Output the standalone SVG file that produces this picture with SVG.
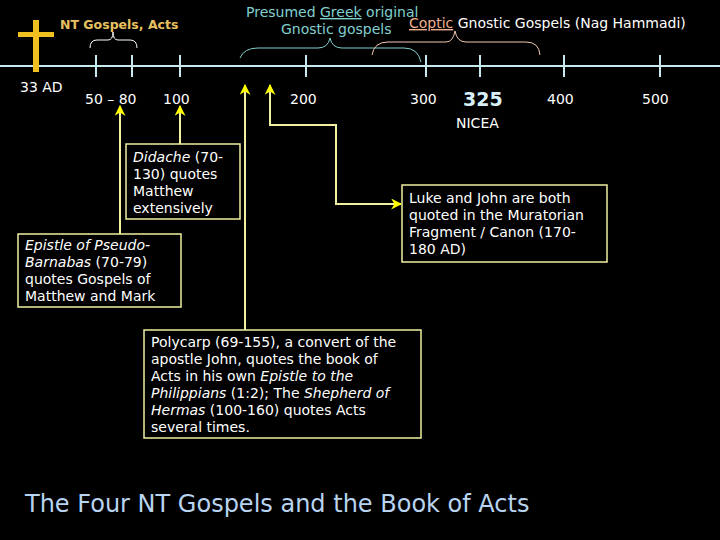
<svg xmlns="http://www.w3.org/2000/svg" width="720" height="540" viewBox="0 0 720 540">
<defs>
<style>
text{font-family:"DejaVu Sans","Verdana",sans-serif;}
.w{fill:#ffffff;font-size:14px;}
.box rect{fill:#000;stroke:#f0f0a0;stroke-width:1.5;}
.box text{fill:#ffffff;font-size:14px;}
.i{font-style:italic;}
.tick{stroke:#c8e8f0;stroke-width:2;}
.con{fill:none;stroke:#f0f0a0;stroke-width:2;}
.teal{fill:#80d0d0;font-size:14px;}
</style>
<marker id="ah" viewBox="0 0 10 10" refX="9" refY="5" markerWidth="5.5" markerHeight="5.5" orient="auto" markerUnits="strokeWidth">
<path d="M0,0 L10,5 L0,10 L3,5 Z" fill="#ffff00"/>
</marker>
</defs>
<rect width="720" height="540" fill="#000"/>

<g id="timeline">
<line x1="0" y1="66" x2="720" y2="66" stroke="#c8e8f0" stroke-width="2"/>
<line class="tick" x1="96" y1="55" x2="96" y2="77"/>
<line class="tick" x1="132" y1="55" x2="132" y2="77"/>
<line class="tick" x1="180" y1="55" x2="180" y2="77"/>
<line class="tick" x1="306" y1="55" x2="306" y2="77"/>
<line class="tick" x1="426" y1="55" x2="426" y2="77"/>
<line class="tick" x1="480" y1="55" x2="480" y2="77"/>
<line class="tick" x1="564" y1="55" x2="564" y2="77"/>
<line class="tick" x1="660" y1="55" x2="660" y2="77"/>
<text class="w" x="20" y="92">33 AD</text>
<text class="w" x="85" y="104">50 – 80</text>
<text class="w" x="163" y="104">100</text>
<text class="w" x="290" y="104">200</text>
<text class="w" x="410" y="104">300</text>
<text x="463" y="106" fill="#d8f0f8" font-size="19" font-weight="bold">325</text>
<text class="w" x="456" y="128">NICEA</text>
<text class="w" x="547" y="104">400</text>
<text class="w" x="642" y="104">500</text>
</g>

<g id="cross">
<rect x="33" y="20" width="6" height="52" fill="#f0c020"/>
<rect x="18" y="32" width="36" height="5" fill="#f0c020"/>
<text x="60" y="29" fill="#e8c060" font-size="12.5" font-weight="bold">NT Gospels, Acts</text>
<path d="M90,48 Q90,40 97,40 L108,40 Q113,40 113,32 Q113,40 118,40 L130,40 Q137,40 137,48" fill="none" stroke="#ffffff" stroke-width="1"/>
</g>

<g id="gnostic">
<text class="teal" x="246" y="17">Presumed <tspan text-decoration="underline">Greek</tspan> original</text>
<text class="teal" x="281" y="34">Gnostic gospels</text>
<path d="M240,58 Q244,48 258,48 L318,48 Q328,48 330,38 Q332,48 342,48 L404,48 Q418,48 421,62" fill="none" stroke="#80d0d0" stroke-width="1"/>
<text x="409" y="28" font-size="14" fill="#ffffff"><tspan fill="#f0b090" text-decoration="underline">Coptic</tspan> Gnostic Gospels (Nag Hammadi)</text>
<path d="M372,55 Q374,42 388,42 L446,42 Q453,42 455,31 Q457,42 466,42 L526,42 Q539,42 540,55" fill="none" stroke="#f0c8b0" stroke-width="1"/>
</g>

<g id="connectors">
<line class="con" x1="120" y1="234" x2="120" y2="106" marker-end="url(#ah)"/>
<line class="con" x1="180" y1="144" x2="180" y2="106" marker-end="url(#ah)"/>
<line class="con" x1="245" y1="330" x2="245" y2="85" marker-end="url(#ah)"/>
<polyline class="con" points="270,126 270,85" marker-end="url(#ah)"/>
<polyline class="con" points="270,125 336,125 336,204 401,204" marker-end="url(#ah)"/>
</g>

<g id="didache" class="box">
<rect x="126" y="144" width="114" height="75"/>
<text x="133" y="162"><tspan class="i">Didache</tspan> (70-</text>
<text x="133" y="179">130) quotes</text>
<text x="133" y="196">Matthew</text>
<text x="133" y="213">extensively</text>
</g>

<g id="barnabas" class="box">
<rect x="18" y="234" width="163" height="73"/>
<text x="25" y="250" class="i">Epistle of Pseudo-</text>
<text x="25" y="267"><tspan class="i">Barnabas</tspan> (70-79)</text>
<text x="25" y="284">quotes Gospels of</text>
<text x="25" y="301">Matthew and Mark</text>
</g>

<g id="polycarp" class="box">
<rect x="144" y="330" width="277" height="108"/>
<text x="151" y="347">Polycarp (69-155), a convert of the</text>
<text x="151" y="364">apostle John, quotes the book of</text>
<text x="151" y="381">Acts in his own <tspan class="i">Epistle to the</tspan></text>
<text x="151" y="398"><tspan class="i">Philippians</tspan> (1:2); The <tspan class="i">Shepherd of</tspan></text>
<text x="151" y="415"><tspan class="i">Hermas</tspan> (100-160) quotes Acts</text>
<text x="151" y="432">several times.</text>
</g>

<g id="muratorian" class="box">
<rect x="402" y="185" width="205" height="77"/>
<text x="409" y="203">Luke and John are both</text>
<text x="409" y="220">quoted in the Muratorian</text>
<text x="409" y="237">Fragment / Canon (170-</text>
<text x="409" y="254">180 AD)</text>
</g>

<g id="title">
<text x="25" y="512" fill="#b8d4f0" font-size="24">The Four NT Gospels and the Book of Acts</text>
</g>
</svg>
